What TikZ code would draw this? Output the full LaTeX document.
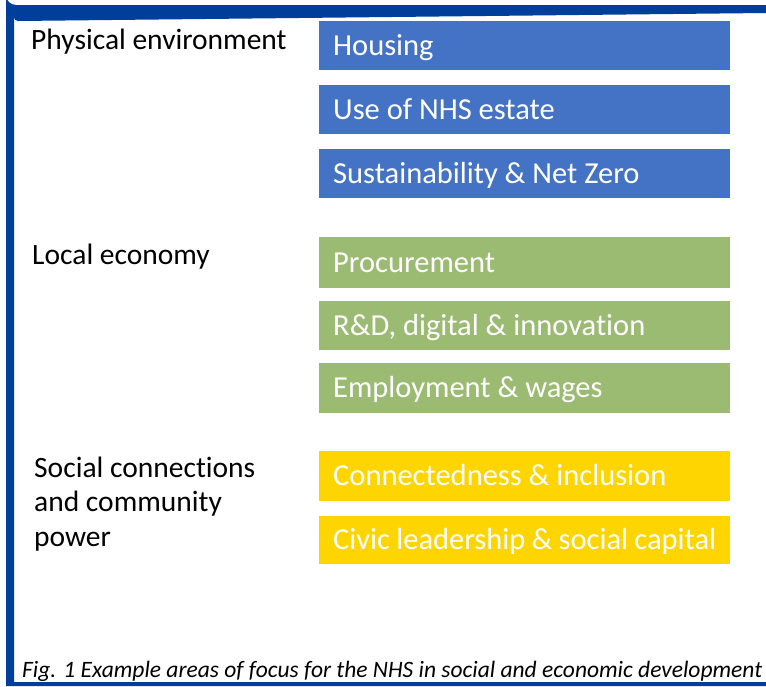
\documentclass[tikz,border=0pt]{standalone}
\usepackage{fontspec}
\setmainfont{Carlito}[Ligatures=NoCommon]
\definecolor{frameblue}{RGB}{0,62,155}
\definecolor{boxblue}{RGB}{68,114,196}
\definecolor{boxgreen}{RGB}{155,187,115}
\definecolor{boxyellow}{RGB}{255,213,0}
\begin{document}
\begin{tikzpicture}[x=1pt,y=-1pt,
  areabox/.style={anchor=north west, minimum width=411pt, minimum height=49pt,
    inner xsep=14pt, inner ysep=0pt, text=white, align=flush left, text width=383pt,
    text height=20pt, text depth=1pt, font=\fontsize{30.5}{35}\selectfont},
  grouplabel/.style={anchor=base west, inner sep=0pt, align=flush left,
    font=\fontsize{29.5}{34.5}\selectfont}]
\useasboundingbox (0,0) rectangle (766,686);
% frame
\fill[frameblue] (766,5) -- (16,5) arc[start angle=90,end angle=180,radius=10] -- (6,686) -- (766,686) -- (766,682) -- (14,682) -- (14,17) arc[start angle=180,end angle=90,radius=4] -- (766,13) -- cycle;
% group labels
\node[grouplabel] (phys) at (31,49) {Physical environment};
\node[grouplabel] (econ) at (32,264) {Local economy};
\node[grouplabel] (soc) at (34,546) {Social connections\\and community\\power};
% boxes
\node[areabox, fill=boxblue] (housing) at (319,21) {Housing};
\node[areabox, fill=boxblue] (estate) at (319,85) {Use of NHS estate};
\node[areabox, fill=boxblue] (netzero) at (319,149) {Sustainability \& Net Zero};
\node[areabox, fill=boxgreen, minimum height=51pt] (procure) at (319,237) {Procurement};
\node[areabox, fill=boxgreen] (rnd) at (319,301) {R\&D, digital \& innovation};
\node[areabox, fill=boxgreen, minimum height=50pt] (employ) at (319,363) {Employment \& wages};
\node[areabox, fill=boxyellow, minimum height=50pt] (connect) at (319,451) {Connectedness \& inclusion};
\node[areabox, fill=boxyellow, minimum height=48pt] (civic) at (319,516) {Civic leadership \& social capital};
% caption
\node[anchor=base west, inner sep=0pt, font=\fontsize{23.5}{28}\selectfont\itshape] (caption) at (22,677) {Fig. 1 Example areas of focus for the NHS in social and economic development};
\end{tikzpicture}
\end{document}
